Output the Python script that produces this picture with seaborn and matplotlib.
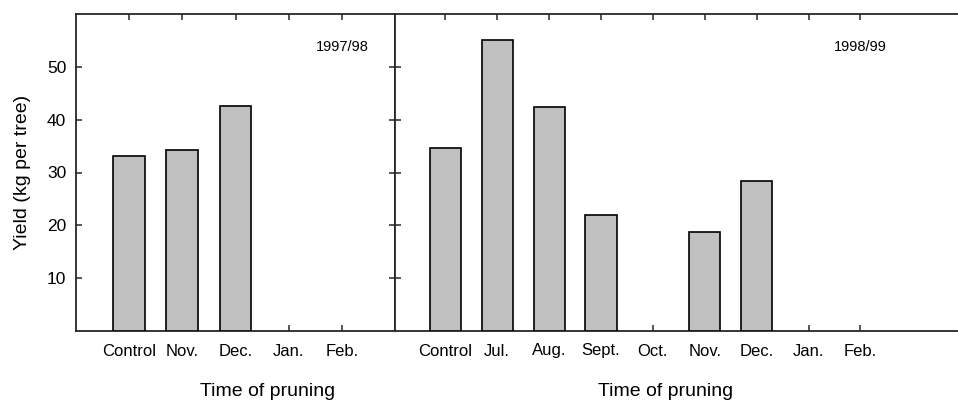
import matplotlib
matplotlib.use("Agg")
import matplotlib.pyplot as plt
import seaborn as sns

# Pruning months shown on each panel's axis
months_9798 = ["Control", "Nov.", "Dec.", "Jan.", "Feb."]
months_9899 = ["Control", "Jul.", "Aug.", "Sept.", "Oct.", "Nov.", "Dec.", "Jan.", "Feb."]

# Treatments with measured yield (kg per tree)
treat_9798 = ["Control", "Nov.", "Dec."]
yield_9798 = [33.1, 34.3, 42.5]

treat_9899 = ["Control", "Jul.", "Aug.", "Sept.", "Nov.", "Dec."]
yield_9899 = [34.7, 55.1, 42.4, 22.0, 18.8, 28.4]

y_ticks = [10, 20, 30, 40, 50]

sns.set_style("ticks")
plt.rcParams["font.family"] = ["Liberation Sans", "DejaVu Sans"]
plt.rcParams["text.color"] = "black"
plt.rcParams["axes.labelcolor"] = "black"

W, H = 958, 401
fig = plt.figure(figsize=(W / 100, H / 100), dpi=100)
ax1 = fig.add_axes([76 / W, 70 / H, 319 / W, 317 / H])
ax2 = fig.add_axes([395 / W, 70 / H, 575 / W, 317 / H])

spine_col = "#262626"
bar_kw = dict(color="#c0c0c0", edgecolor="black", linewidth=1.2,
              width=0.6, saturation=1, zorder=3)

sns.barplot(x=treat_9798, y=yield_9798, order=months_9798, ax=ax1, **bar_kw)
sns.barplot(x=treat_9899, y=yield_9899, order=months_9899, ax=ax2, **bar_kw)

ax1.set_xlim(-1, 5)
ax2.set_xlim(-0.969, -0.969 + 575 / 51.9)

for ax in (ax1, ax2):
    ax.set_ylim(0, 60)
    ax.set_yticks(y_ticks)
    for s in ax.spines.values():
        s.set_color(spine_col)
        s.set_linewidth(1.3)
    ax.tick_params(axis="x", direction="in", top=True, bottom=True,
                   length=4, width=1.1, color=spine_col, pad=9,
                   labelsize=12, labelcolor="black")
    ax.tick_params(axis="y", direction="in", length=4, width=1.1,
                   color=spine_col, pad=7, labelsize=12.5, labelcolor="black")
    ax.set_xlabel("Time of pruning", fontsize=14, color="black")

ax1.tick_params(axis="y", left=True, right=True, labelleft=True)
ax2.tick_params(axis="y", left=True, right=False, labelleft=False)
ax2.spines["right"].set_visible(False)

ax1.set_ylabel("Yield (kg per tree)", fontsize=14, color="black")
ax1.yaxis.set_label_coords(-0.142, 0.5)
ax2.set_ylabel("")

ax1.xaxis.set_label_coords(0.602, -0.163)
ax2.xaxis.set_label_coords(271 / 575, -0.163)

ax1.text(4, 53.8, "1997/98", ha="center", va="center", fontsize=10.5)
ax2.text(8, 53.8, "1998/99", ha="center", va="center", fontsize=10.5)

fig.savefig("out.png", dpi=100)
